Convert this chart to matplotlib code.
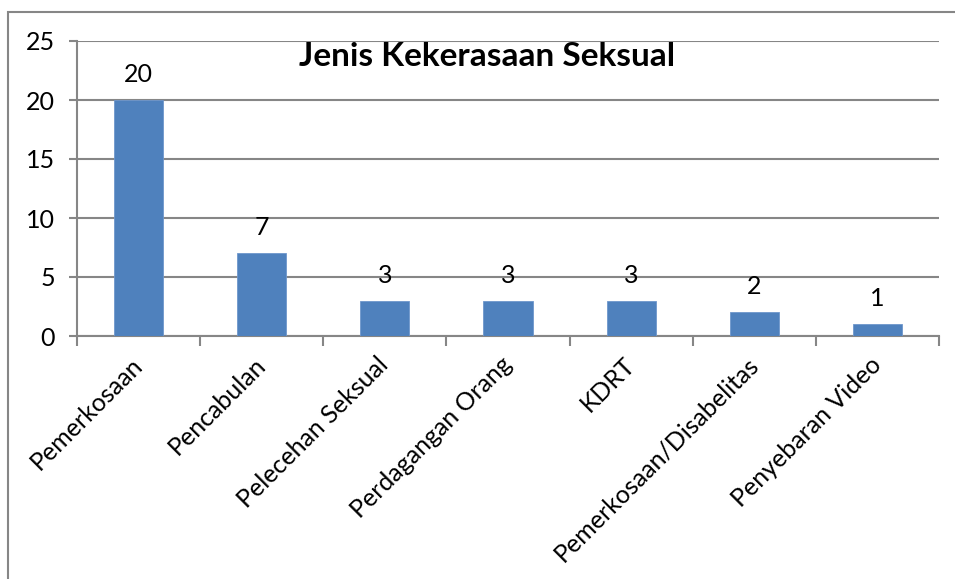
import matplotlib.pyplot as plt
from matplotlib.patches import Rectangle
import numpy as np

# data
categories = ["Pemerkosaan", "Pencabulan", "Pelecehan Seksual", "Perdagangan Orang",
              "KDRT", "Pemerkosaan/Disabelitas", "Penyebaran Video"]
values = [20, 7, 3, 3, 3, 2, 1]
title = "Jenis Kekerasaan Seksual"

plt.rcParams['font.family'] = ['Lato', 'DejaVu Sans']
grey = '#868686'
W, H = 955, 579

fig = plt.figure(figsize=(W / 100, H / 100), dpi=100)
ax = fig.add_axes([77 / W, (H - 336) / H, (939 - 77) / W, (336 - 41) / H])

# outer chart border (cut off at right and bottom)
fig.patches.append(Rectangle((8 / W, -0.05), 1.1, 1 - 12 / H + 0.05,
                             transform=fig.transFigure, fill=False,
                             edgecolor=grey, lw=1.5))

x = np.arange(len(categories))
bars = ax.bar(x, values, width=0.4, color='#4F81BD', edgecolor='#6F97CC', lw=0.6, zorder=3)

for xi, v in zip(x, values):
    ax.annotate(str(v), (xi, v), xytext=(0, 13), textcoords='offset points',
                ha='center', va='baseline', fontsize=18)

ax.set_xlim(-0.5, len(categories) - 0.5)
ax.set_ylim(0, 25)
ax.set_yticks(range(0, 26, 5))
ax.yaxis.grid(True, color=grey, lw=1.5, zorder=0)
ax.set_axisbelow(True)

for s in ['top', 'right']:
    ax.spines[s].set_visible(False)
for s in ['left', 'bottom']:
    ax.spines[s].set_color(grey)
    ax.spines[s].set_linewidth(1.5)

ax.tick_params(axis='y', length=6, color=grey, width=1.5, labelsize=18, pad=10)

# category labels at centres, tick marks at boundaries
ax.set_xticks(x)
ax.set_xticklabels(categories, rotation=45, ha='right', va='center',
                   rotation_mode='anchor', fontsize=18)
ax.tick_params(axis='x', which='major', length=0, pad=18)
ax.set_xticks(np.arange(-0.5, len(categories)), minor=True)
ax.tick_params(axis='x', which='minor', length=7, color=grey, width=1.5)

fig.text(487 / W, 1 - 56 / H, title, ha='center', va='center',
         fontsize=24, fontweight='bold')

fig.savefig('out.png', dpi=100)
